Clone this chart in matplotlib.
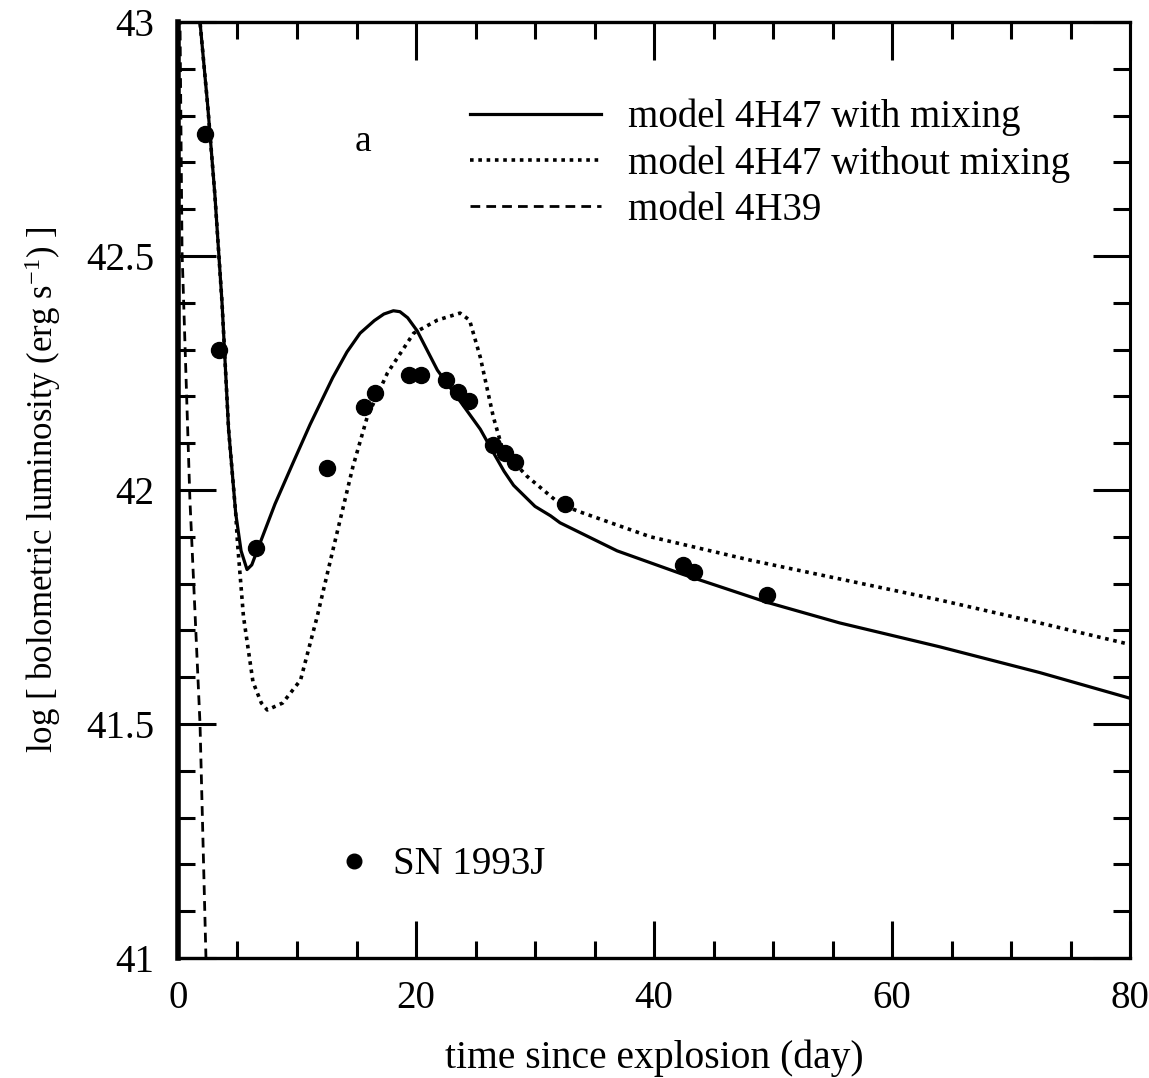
import matplotlib
matplotlib.use("Agg")
import matplotlib.pyplot as plt
from matplotlib.ticker import MultipleLocator
from matplotlib.lines import Line2D

plt.rcParams['font.family'] = ['Liberation Serif', 'DejaVu Serif']
plt.rcParams['mathtext.fontset'] = 'custom'
plt.rcParams['mathtext.rm'] = 'Liberation Serif'
plt.rcParams['mathtext.it'] = 'Liberation Serif:italic'

# ---- data ----
mix_x = [1.4, 1.85, 2.5, 3.1, 3.7, 4.25, 4.85, 5.3, 5.8, 6.2, 6.9, 8.15, 9.7,
         11.1, 13.0, 14.2, 15.3, 16.5, 17.3, 18.1, 18.65, 19.3, 20.1, 21.8, 23.7,
         25.4, 26.5, 27.4, 28.2, 29.0, 30.0, 31.3, 32.1, 34.5, 36.9, 42.4, 49.5,
         55.6, 64.0, 72.4, 80.0]
mix_y = [43.15, 43.0, 42.82, 42.63, 42.40, 42.13, 41.95, 41.87, 41.83, 41.84,
         41.887, 41.97, 42.06, 42.14, 42.24, 42.295, 42.335, 42.362, 42.376, 42.383,
         42.381, 42.368, 42.34, 42.256, 42.19, 42.13, 42.08, 42.04, 42.01, 41.99,
         41.965, 41.945, 41.93, 41.90, 41.87, 41.82, 41.76, 41.716, 41.665, 41.61,
         41.555]

nomix_x = [1.4, 1.85, 2.5, 3.1, 3.7, 4.25, 4.85, 5.0, 5.5, 6.3, 7.0, 7.5, 8.8,
           10.3, 11.7, 13.0, 14.7, 15.9, 17.6, 19.8, 21.8, 23.7, 24.5, 25.4, 26.5,
           27.3, 29.3, 32.1, 33.8, 39.7, 48.1, 55.6, 64.0, 72.4, 80.0]
nomix_y = [43.15, 43.0, 42.82, 42.63, 42.40, 42.13, 41.95, 41.887, 41.73, 41.59,
           41.545, 41.53, 41.545, 41.594, 41.73, 41.87, 42.05, 42.156, 42.25, 42.335,
           42.363, 42.378, 42.363, 42.284, 42.156, 42.085, 42.03, 41.97, 41.953, 41.90,
           41.85, 41.81, 41.765, 41.716, 41.67]

h39_x = [0.1, 0.17, 0.34, 1.0, 1.85, 2.35, 2.6]
h39_y = [43.15, 43.0, 42.51, 41.98, 41.50, 41.0, 40.85]

sn_x = [2.27, 3.45, 6.55, 12.5, 15.6, 16.55, 19.4, 20.4, 22.5, 23.5, 24.45, 26.5,
        27.5, 28.3, 32.5, 42.4, 43.4, 49.5]
sn_y = [42.76, 42.30, 41.876, 42.047, 42.177, 42.207, 42.246, 42.246, 42.235, 42.21,
        42.19, 42.096, 42.08, 42.06, 41.97, 41.84, 41.825, 41.776]

labels = ["model 4H47 with mixing", "model 4H47 without mixing", "model 4H39"]
sn_label = "SN 1993J"

# ---- figure ----
fig = plt.figure(figsize=(11.49, 10.78), dpi=100)
ax = fig.add_axes([178/1149, 1 - 958/1078, (1130-178)/1149, (958-22)/1078])

l1, = ax.plot(mix_x, mix_y, color='black', lw=2.3, solid_joinstyle='round')
l2, = ax.plot(nomix_x, nomix_y, color='black', lw=2.6, linestyle=(0, (1, 1.3)))
l3, = ax.plot(h39_x, h39_y, color='black', lw=2.0, linestyle=(0, (3.5, 2.2)))
pts, = ax.plot(sn_x, sn_y, 'o', color='black', ms=11.5, linestyle='none')

ax.set_xlim(0, 80)
ax.set_ylim(41, 43)

ax.xaxis.set_major_locator(MultipleLocator(20))
ax.xaxis.set_minor_locator(MultipleLocator(5))
ax.yaxis.set_major_locator(MultipleLocator(0.5))
ax.yaxis.set_minor_locator(MultipleLocator(0.1))
ax.set_yticks([41, 41.5, 42, 42.5, 43])
ax.set_yticklabels(['41', '41.5', '42', '42.5', '43'])

ax.tick_params(which='both', direction='in', top=True, right=True, width=2.2,
               labelsize=28)
ax.tick_params(which='major', length=27)
ax.tick_params(which='minor', length=12)
ax.tick_params(axis='x', which='major', pad=16)
ax.tick_params(axis='y', which='major', pad=17)

for side, w in [('left', 4.0), ('bottom', 2.4), ('top', 2.4), ('right', 2.2)]:
    ax.spines[side].set_linewidth(w)

ax.set_xlabel("time since explosion (day)", fontsize=28.5, labelpad=16)
ax.set_ylabel("log [ bolometric luminosity (erg s$^{-1}$) ]", fontsize=25, labelpad=17)

ax.text(15.5, 42.745, "a", fontsize=27, ha='center', va='center')

leg = ax.legend([l1, l2, l3], labels, loc='upper left', bbox_to_anchor=(0.307, 0.918),
                frameon=False, fontsize=28, handlelength=3.35, handletextpad=0.7,
                labelspacing=0.23, borderpad=0, borderaxespad=0)
ax.add_artist(leg)

h_sn = Line2D([], [], marker='o', color='black', ms=10.5, linestyle='none')
ax.legend([h_sn], [sn_label], loc='center left', bbox_to_anchor=(0.175, 0.0994),
          frameon=False, fontsize=28, handlelength=0.5, handletextpad=0.74,
          borderpad=0, borderaxespad=0)

fig.savefig("out.png", dpi=100)
